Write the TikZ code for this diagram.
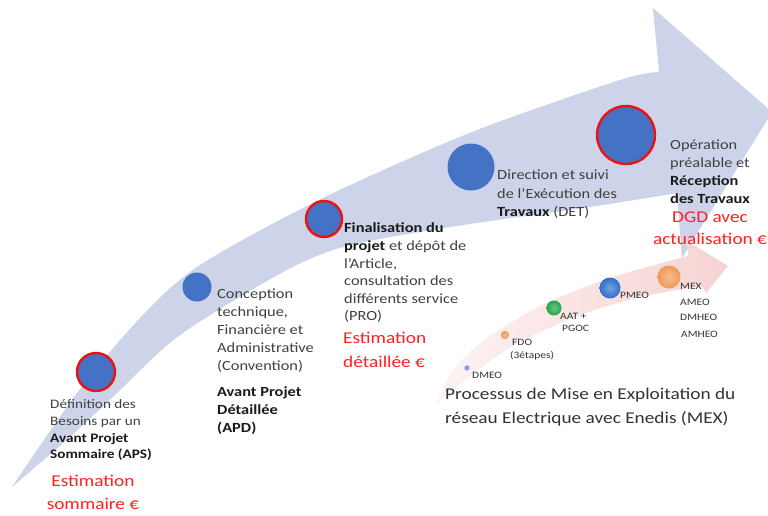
\documentclass[tikz,border=0pt]{standalone}
\usepackage{fontspec}
\setmainfont{Carlito}[FakeStretch=1.17]
\definecolor{arrowblue}{HTML}{CDD4EA}
\definecolor{pinkL}{HTML}{FDF3F3}
\definecolor{pinkR}{HTML}{F6D3D3}
\definecolor{cblue}{HTML}{4472C4}
\definecolor{cred}{HTML}{EE1111}
\definecolor{tred}{HTML}{FF2020}
\definecolor{tgray}{HTML}{404040}
\definecolor{tblack}{HTML}{1A1A1A}
\definecolor{tdark}{HTML}{333333}
\definecolor{dotblueA}{HTML}{6F88D8}
\definecolor{dotorange}{HTML}{EE9A55}
\definecolor{dotgreen}{HTML}{22A648}
\definecolor{dotblueB}{HTML}{2F70CC}
\newcommand\bfk[1]{\textbf{\color{tblack}#1}}
\newcommand\tsa{\rule{0pt}{12pt}}
\newcommand\tsb{\rule{0pt}{14pt}}
\tikzset{
  txt/.style={anchor=north west, inner sep=0pt, align=left, text=tgray, font=\fontsize{14}{18}\selectfont},
  redtxt/.style={inner sep=0pt, align=center, text=tred, font=\fontsize{16.5}{23}\selectfont},
  smalltxt/.style={anchor=base west, inner sep=0pt, text=tdark, font=\fontsize{9.8}{11}\selectfont},
  milestone/.style={circle, inner sep=0pt, fill=cblue},
  keystone/.style={milestone, draw=cred, line width=2.4pt},
  sphere/.style={inner color=#1!65!white, outer color=#1},
}
\begin{document}
\begin{tikzpicture}[x=1pt,y=-1pt]
\useasboundingbox (0,0) rectangle (768,515);
\clip (0,0) rectangle (768,515);
\fill[white] (0,0) rectangle (768,515);

% big curved arrow
\fill[arrowblue] plot[smooth] coordinates {(12,487) (77,393) (140,318) (200,265) (323,198) (472,132) (620,80) (659,72)}
  -- (653,8) -- (772,112) -- (682,258) -- (677,193)
  -- plot[smooth] coordinates {(677,193) (590,207) (497,220) (420,232) (343,247) (283,272) (180,335) (117,393) (70,437) (12,487)} -- cycle;

% pink curved arrow
\shade[left color=pinkL, right color=pinkR] plot[smooth] coordinates {(436,405) (452,372) (482,342) (540,306) (610,278) (688,256)}
  -- (687,241) -- (728,266) -- (706,293) -- (702,286)
  -- plot[smooth] coordinates {(702,286) (640,297) (580,315) (520,342) (475,372) (436,405)} -- cycle;

% milestones
\node[keystone, minimum size=38pt] (aps) at (96,372) {};
\node[milestone, minimum size=29pt] (apd) at (197,287) {};
\node[keystone, minimum size=36pt] (pro) at (324,219) {};
\node[milestone, minimum size=47pt] (det) at (471,167) {};
\node[keystone, minimum size=58pt] (aor) at (626,135) {};

% texts
\node[txt, font=\fontsize{13}{16.8}\selectfont] (tAPS) at (50,396.3) {\tsa D\'efinition des\\Besoins par un\\\bfk{Avant Projet}\\\bfk{Sommaire (APS)}};
\node[redtxt, anchor=north] (rAPS) at (93,472.4) {\tsb Estimation\\sommaire €};

\node[txt] (tCON) at (217,286.6) {\tsa Conception\\technique,\\Financière et\\Administrative\\(Convention)};
\node[txt] (tAPD) at (217,384.6) {\tsa\bfk{Avant Projet}\\\bfk{Détaillée}\\\bfk{(APD)}};

\node[txt, font=\fontsize{14}{17.6}\selectfont] (tPRO) at (344,220.6) {\tsa\bfk{Finalisation du}\\\bfk{projet} et dépôt de\\l’Article,\\consultation des\\différents service\\(PRO)};
\node[redtxt, anchor=north west, align=left, font=\fontsize{16.5}{24}\selectfont] (rPRO) at (343,329.4) {\tsb Estimation\\détaillée €};

\node[txt, font=\fontsize{14}{18.3}\selectfont] (tDET) at (497,167.6) {\tsa Direction et suivi\\de l’Exécution des\\\bfk{Travaux} (DET)};

\node[txt] (tAOR) at (670,137.6) {\tsa Opération\\préalable et\\\bfk{Réception}\\\bfk{des Travaux}};
\node[redtxt, anchor=north, font=\fontsize{16.5}{22}\selectfont] (rAOR) at (710,208.4) {\tsb DGD avec\\actualisation €};

\node[txt, text=tdark, font=\fontsize{16.5}{24}\selectfont] (tMEX) at (445,385.4) {\tsb Processus de Mise en Exploitation du\\réseau Electrique avec Enedis (MEX)};

% MEX process dots
\shade[sphere=dotblueA] (467,368) circle[radius=2.5];
\shade[sphere=dotorange] (505,335) circle[radius=4.2];
\shade[sphere=dotgreen] (554,308) circle[radius=7.5];
\shade[sphere=dotblueB] (610,288) circle[radius=10.5];
\shade[sphere=dotorange] (669,277) circle[radius=11.5];

\node[smalltxt] (lDMEO) at (472,378) {DMEO};
\node[smalltxt] (lFDO) at (512,345) {FDO};
\node[smalltxt] (lFDOb) at (510,358) {(3étapes)};
\node[smalltxt] (lAAT) at (560,319) {AAT +};
\node[smalltxt] (lPGOC) at (562,331) {PGOC};
\node[smalltxt] (lPMEO) at (620,298) {PMEO};
\node[smalltxt] (lMEX) at (680,289) {MEX};
\node[smalltxt] (lAMEO) at (680,305) {AMEO};
\node[smalltxt] (lDMHEO) at (680,320) {DMHEO};
\node[smalltxt] (lAMHEO) at (681,337) {AMHEO};
\end{tikzpicture}
\end{document}
